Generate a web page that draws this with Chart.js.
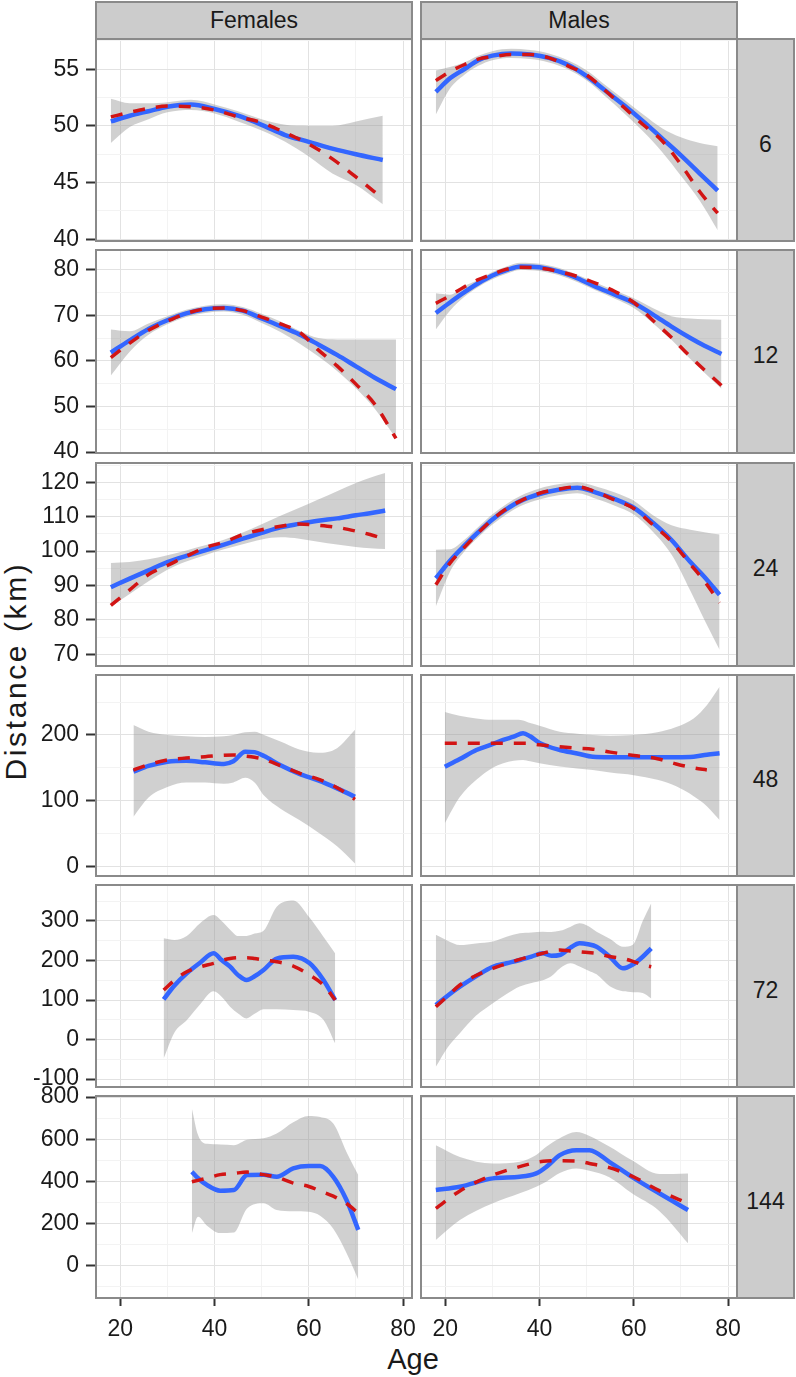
<!DOCTYPE html>
<html>
<head>
<meta charset="utf-8">
<script src="https://cdn.jsdelivr.net/npm/chart.js@4.4.0/dist/chart.umd.min.js"></script>
<style>
  html, body { margin: 0; padding: 0; background: #fff; }
  #plot { position: relative; width: 796px; height: 1377px; overflow: hidden;
          font-family: "Liberation Sans", Arial, sans-serif; color: #1a1a1a; }
  #plot canvas { position: absolute; }
  .strip { position: absolute; box-sizing: border-box; background: #cccccc;
           border: 2px solid #8a8a8a; display: flex; align-items: center;
           justify-content: center; font-size: 23px; }
  .side { padding-top: 8px; }
  #ytitle { position: absolute; left: -134px; top: 651px; width: 300px; height: 40px;
            line-height: 40px; text-align: center; font-size: 30px; letter-spacing: 2.6px;
            transform: rotate(-90deg); }
  #xtitle { position: absolute; left: 313px; top: 1345px; width: 200px; height: 29px;
            line-height: 29px; text-align: center; font-size: 29px; }
</style>
</head>
<body>
<div id="plot">
  <div class="strip" style="left:95px;top:1px;width:318px;height:39px;">Females</div>
  <div class="strip" style="left:420px;top:1px;width:318px;height:39px;">Males</div>
  <div id="ytitle">Distance (km)</div>
  <div id="xtitle">Age</div>
</div>
<script>
// facet labels and tick values
const FACETS = ['6', '12', '24', '48', '72', '144'];
const X_MAJOR = [20, 40, 60, 80];
const X_MINOR = [30, 50, 70];
const X_RANGE = [14.85, 81.9];

const Y_MAJOR_6 = [40, 45, 50, 55], Y_MINOR_6 = [42.5, 47.5, 52.5, 57.5], Y_RANGE_6 = [39.85, 57.67];
const Y_MAJOR_12 = [40, 50, 60, 70, 80], Y_MINOR_12 = [45, 55, 65, 75], Y_RANGE_12 = [39.8, 84.3];
const Y_MAJOR_24 = [70, 80, 90, 100, 110, 120], Y_MINOR_24 = [75, 85, 95, 105, 115, 125], Y_RANGE_24 = [66.6, 125.6];
const Y_MAJOR_48 = [0, 100, 200], Y_MINOR_48 = [50, 150, 250], Y_RANGE_48 = [-14, 291];
const Y_MAJOR_72 = [-100, 0, 100, 200, 300], Y_MINOR_72 = [-50, 50, 150, 250, 350], Y_RANGE_72 = [-120, 391];
const Y_MAJOR_144 = [0, 200, 400, 600, 800], Y_MINOR_144 = [-100, 100, 300, 500, 700], Y_RANGE_144 = [-153, 805];

// 6 - Females
const AGE_F6 = [18, 22, 26, 30, 35, 40, 45, 50, 55, 60, 65, 70, 75.7];
const BLUE_F6 = [50.4, 50.9, 51.3, 51.7, 51.9, 51.5, 50.9, 50.1, 49.2, 48.6, 48.0, 47.5, 47.0];
const RED_F6 = [50.8, 51.2, 51.55, 51.75, 51.7, 51.4, 50.8, 50.3, 49.4, 48.4, 47.1, 45.5, 43.6];
const HI_F6 = [52.4, 52.0, 52.0, 52.1, 52.3, 51.9, 51.3, 50.6, 50.1, 50.0, 50.0, 50.4, 50.9];
const LO_F6 = [48.5, 49.9, 50.6, 51.2, 51.4, 51.1, 50.4, 49.6, 48.6, 47.3, 45.8, 44.8, 43.1];
// 6 - Males
const AGE_M6 = [18, 21, 24, 27, 30, 34, 38, 42, 46, 50, 54, 58, 62, 66, 70, 74, 77.8];
const BLUE_M6 = [53.0, 54.2, 55.0, 55.8, 56.2, 56.4, 56.3, 56.0, 55.4, 54.4, 53.1, 51.8, 50.4, 48.9, 47.4, 45.8, 44.3];
const RED_M6 = [54.0, 54.8, 55.4, 55.9, 56.1, 56.3, 56.3, 56.0, 55.3, 54.5, 53.1, 51.6, 50.1, 48.7, 46.6, 44.2, 42.3];
const HI_M6 = [54.9, 55.2, 55.6, 56.2, 56.6, 56.8, 56.7, 56.4, 55.8, 54.9, 53.6, 52.3, 51.0, 49.8, 49.0, 48.5, 48.2];
const LO_M6 = [51.0, 53.3, 54.5, 55.3, 55.8, 56.0, 55.9, 55.6, 55.0, 54.0, 52.6, 51.1, 49.5, 47.7, 45.6, 43.4, 40.8];

// 12 - Females
const AGE_F12 = [18, 22, 26, 30, 34, 38, 42, 46, 50, 54, 58, 62, 66, 70, 74, 78.5];
const BLUE_F12 = [61.8, 64.5, 67.0, 68.9, 70.4, 71.3, 71.6, 71.0, 69.3, 67.6, 65.8, 63.6, 61.3, 58.8, 56.3, 53.8];
const RED_F12 = [60.7, 63.9, 66.7, 68.7, 70.4, 71.4, 71.6, 71.0, 69.6, 68.1, 66.3, 62.4, 58.9, 54.9, 50.5, 43.0];
const HI_F12 = [66.9, 66.5, 68.2, 69.8, 71.2, 72.1, 72.4, 71.8, 70.3, 68.6, 66.6, 65.0, 64.7, 64.7, 64.7, 64.7];
const LO_F12 = [56.8, 62.0, 65.7, 68.0, 69.6, 70.5, 70.8, 70.1, 68.3, 66.3, 63.8, 61.0, 57.8, 54.0, 49.5, 43.0];
// 12 - Males
const AGE_M12 = [18, 21, 24, 27, 30, 33, 36, 40, 44, 48, 52, 56, 60, 64, 68, 72, 75, 78.6];
const BLUE_M12 = [70.5, 72.8, 75.0, 77.0, 78.7, 79.9, 80.7, 80.5, 79.6, 78.1, 76.2, 74.5, 72.7, 70.2, 67.5, 65.0, 63.3, 61.5];
const RED_M12 = [72.6, 74.3, 76.2, 77.8, 79.0, 80.1, 80.5, 80.3, 79.6, 78.5, 77.0, 75.2, 72.8, 68.9, 65.1, 60.9, 58.0, 54.6];
const HI_M12 = [74.8, 74.5, 76.4, 77.8, 79.5, 80.7, 81.5, 81.3, 80.4, 78.9, 77.1, 75.4, 73.7, 71.6, 69.8, 69.3, 69.1, 69.0];
const LO_M12 = [66.9, 71.0, 74.0, 76.2, 77.9, 79.1, 79.9, 79.7, 78.8, 77.3, 75.4, 73.6, 71.6, 68.3, 64.6, 60.4, 57.4, 53.9];

// 24 - Females
const AGE_F24 = [18, 22, 26, 30, 34, 38, 42, 46, 50, 54, 58, 62, 66, 70, 73, 76.2];
const BLUE_F24 = [89.5, 92.0, 94.4, 96.8, 98.6, 100.2, 101.9, 103.6, 105.3, 106.9, 107.9, 108.8, 109.5, 110.4, 111.0, 111.8];
const RED_F24 = [84.2, 88.7, 93.2, 95.8, 98.5, 101.0, 102.6, 104.8, 106.2, 107.2, 107.9, 107.5, 106.9, 105.8, 104.8, 103.5];
const HI_F24 = [96.5, 96.8, 97.6, 98.8, 100.2, 101.7, 103.3, 105.4, 107.8, 110.3, 112.6, 115.0, 117.4, 119.8, 121.3, 122.7];
const LO_F24 = [83.9, 87.5, 91.2, 94.6, 97.0, 98.8, 100.5, 102.0, 103.4, 104.0, 103.6, 102.7, 101.9, 101.2, 100.8, 100.6];
// 24 - Males
const AGE_M24 = [18, 21, 24, 27, 30, 33, 36, 40, 44, 48, 52, 56, 60, 64, 68, 72, 75, 78.2];
const BLUE_M24 = [92.1, 97.2, 101.5, 105.5, 109.2, 112.2, 114.6, 116.6, 117.8, 118.4, 117.0, 115.1, 112.6, 108.3, 103.2, 96.8, 92.5, 87.3];
const RED_M24 = [90.2, 96.5, 101.0, 105.3, 109.2, 112.3, 114.6, 116.8, 118.0, 118.7, 117.2, 114.8, 112.4, 107.7, 102.8, 96.2, 91.2, 85.0];
const HI_M24 = [100.4, 100.5, 103.2, 107.0, 110.7, 113.7, 116.1, 118.2, 119.4, 120.0, 118.8, 117.0, 114.6, 110.5, 107.5, 106.2, 105.5, 104.8];
const LO_M24 = [83.9, 94.0, 99.8, 104.0, 107.7, 110.7, 113.1, 115.0, 116.2, 116.8, 115.2, 113.2, 110.6, 105.7, 99.0, 88.5, 80.0, 71.3];

// 48 - Females
const AGE_F48 = [22.8, 26, 30, 34, 38, 42, 44, 46.5, 48.5, 50.5, 54, 58, 62, 66, 69.8];
const BLUE_F48 = [144.3, 153, 159.5, 161, 158.5, 156, 160, 174.7, 174, 168, 154, 141, 131, 119, 106.3];
const RED_F48 = [146.8, 155, 162, 165, 167, 169.3, 169.6, 168, 166.1, 163, 153.5, 142, 133, 120, 102.3];
const HI_F48 = [215, 205, 200, 198, 197, 198, 200, 204, 205, 200, 190, 178, 173, 180, 208];
const LO_F48 = [76, 105, 121, 128, 128, 126, 128, 135, 128, 108, 88, 71, 52, 31, 5];
// 48 - Males
const AGE_M48 = [19.9, 23, 26.6, 30, 32.3, 34.5, 36.5, 38, 40, 44.3, 48, 51.3, 55, 60, 65, 69, 72.7, 75.5, 78.2];
const BLUE_M48 = [151.9, 163, 177.2, 186, 192.4, 197.5, 202.5, 198, 188, 177.2, 172, 167, 166.3, 166.3, 166.3, 166.3, 167, 170, 172.2];
const RED_M48 = [187.3, 187.3, 187.3, 187.3, 187.3, 187.3, 187.3, 187, 185, 182, 180, 178.5, 174, 169, 164, 156, 150, 147, null];
const HI_M48 = [235, 229, 225, 223, 223, 223, 222, 218, 214, 205, 202, 200, 199, 200, 204, 212, 225, 245, 273];
const LO_M48 = [66, 105, 132, 150, 157, 161, 162, 160, 157, 152, 149, 146.8, 143, 139, 132, 122, 107, 92, 71];

// 72 - Females
const AGE_F72 = [29.2, 31.5, 34.1, 37, 39.8, 41.5, 43.3, 45, 46.8, 48.5, 50.4, 53.2, 56.7, 60.2, 63.1, 65.6];
const BLUE_F72 = [101.7, 137, 167.6, 195, 218.2, 201, 184.3, 163, 150.6, 160, 176, 205, 209.6, 192.9, 150.6, 100];
const RED_F72 = [125.3, 150, 171.6, 184, 192.9, 200, 205, 207, 207.1, 205, 201.3, 197, 186, 163.3, 138, 100];
const HI_F72 = [256, 252, 262, 295, 315, 300, 278, 262, 262, 268, 275, 336, 352, 308, 260, 218];
const LO_F72 = [-48, 18, 49, 90, 122, 108, 83, 66, 53.5, 65, 77, 77, 74.7, 70, 50, -10];
// 72 - Males
const AGE_M72 = [18, 20.5, 23.1, 26.5, 30.1, 33, 35.8, 38.3, 40.7, 42.5, 44.3, 46.5, 48.5, 50.3, 52.1, 54.9, 57.7, 59.8, 61.9, 63.7];
const BLUE_M72 = [87.3, 111, 133.7, 160, 184.3, 193, 201.3, 210, 218.2, 212, 214, 232, 243.5, 241, 235, 209.6, 180.2, 190, 209.6, 230.9];
const RED_M72 = [83, 110, 138, 162, 180.2, 192, 203, 211, 218.2, 224, 226.6, 224, 222, 220, 218, 210, 205, 198, 189, 184];
const HI_M72 = [265, 250, 239, 243, 248, 260, 269, 271, 273, 272, 275, 285, 294, 287, 273, 255, 235, 240, 300, 345];
const LO_M72 = [-69, -20, 16, 60, 92, 115, 134, 143, 150, 160, 180, 193, 185, 175, 165, 135, 122, 120, 118, 104];

// 144 - Females
const AGE_F144 = [35.2, 36.5, 38.4, 41.2, 44.1, 46.9, 50.4, 53.2, 56.7, 60, 62.4, 65.2, 68, 70.5];
const BLUE_F144 = [445.6, 415, 382.7, 355.8, 359, 430, 432, 421.9, 461.6, 472.5, 472.5, 421.9, 311.8, 170];
const RED_F144 = [398, 405, 415, 432, 438, 444, 432, 420, 392, 376, 355, 330, 295, 250];
const HI_F144 = [745, 620, 578, 575, 572, 598, 605, 627, 680, 710, 705, 674, 540, 430];
const LO_F144 = [154, 232, 190, 155, 158, 272, 296, 264, 258, 256, 237, 175, 60, -66];
// 144 - Males
const AGE_M144 = [18, 23.1, 30.1, 35.8, 39.3, 41.5, 44.3, 47.8, 50.6, 54.8, 59.6, 65.4, 71.5];
const BLUE_M144 = [359, 374.7, 414.4, 421.9, 438, 470, 524.5, 548, 548, 492.8, 421.9, 343.5, 264.6];
const RED_M144 = [272, 355, 430, 470, 490, 497, 498, 497, 485, 465, 425, 356, 295];
const HI_M144 = [572, 516, 485, 493, 525, 565, 605, 634, 615, 565, 500, 435, 438];
const LO_M144 = [122, 217, 296, 343.5, 375, 400, 440, 461, 450, 420, 343.5, 260, 107];

const ROWS = [
  { major: Y_MAJOR_6, minor: Y_MINOR_6, range: Y_RANGE_6, panels: [
    [AGE_F6, BLUE_F6, RED_F6, HI_F6, LO_F6], [AGE_M6, BLUE_M6, RED_M6, HI_M6, LO_M6]] },
  { major: Y_MAJOR_12, minor: Y_MINOR_12, range: Y_RANGE_12, panels: [
    [AGE_F12, BLUE_F12, RED_F12, HI_F12, LO_F12], [AGE_M12, BLUE_M12, RED_M12, HI_M12, LO_M12]] },
  { major: Y_MAJOR_24, minor: Y_MINOR_24, range: Y_RANGE_24, panels: [
    [AGE_F24, BLUE_F24, RED_F24, HI_F24, LO_F24], [AGE_M24, BLUE_M24, RED_M24, HI_M24, LO_M24]] },
  { major: Y_MAJOR_48, minor: Y_MINOR_48, range: Y_RANGE_48, panels: [
    [AGE_F48, BLUE_F48, RED_F48, HI_F48, LO_F48], [AGE_M48, BLUE_M48, RED_M48, HI_M48, LO_M48]] },
  { major: Y_MAJOR_72, minor: Y_MINOR_72, range: Y_RANGE_72, panels: [
    [AGE_F72, BLUE_F72, RED_F72, HI_F72, LO_F72], [AGE_M72, BLUE_M72, RED_M72, HI_M72, LO_M72]] },
  { major: Y_MAJOR_144, minor: Y_MINOR_144, range: Y_RANGE_144, panels: [
    [AGE_F144, BLUE_F144, RED_F144, HI_F144, LO_F144], [AGE_M144, BLUE_M144, RED_M144, HI_M144, LO_M144]] },
];

// layout (page pixels)
const COL_LEFT = [96, 421];
const PANEL_W = 316;
const ROW_TOP = [39, 250, 463, 675, 885, 1096];
const ROW_BOTTOM = [241, 453, 666, 876, 1087, 1298];
const STRIP_LEFT = 736, STRIP_W = 59;

const FONT = '"Liberation Sans", Arial, sans-serif';
const BLUE = '#3366ff';
const RED = '#d21414';
const BAND = 'rgba(150,150,150,0.45)';
const FRAME = '#8a8a8a';
const GRID = '#e2e2e2';
const GRID_MINOR = '#f3f3f3';
const TICK = '#333333';
const TEXT = '#1a1a1a';

const pts = (ages, vals) => ages.map((a, i) => ({ x: a, y: vals[i] }));

const frame = {
  id: 'frame',
  afterDraw(chart) {
    const { ctx, chartArea: a } = chart;
    ctx.save();
    ctx.strokeStyle = FRAME;
    ctx.lineWidth = 2;
    ctx.strokeRect(a.left, a.top, a.right - a.left, a.bottom - a.top);
    ctx.restore();
  }
};

const plot = document.getElementById('plot');

ROWS.forEach((row, r) => {
  // facet strip on the right
  const s = document.createElement('div');
  s.className = 'strip side';
  s.style.left = STRIP_LEFT + 'px';
  s.style.top = (ROW_TOP[r] - 1) + 'px';
  s.style.width = STRIP_W + 'px';
  s.style.height = (ROW_BOTTOM[r] - ROW_TOP[r] + 2) + 'px';
  s.textContent = FACETS[r];
  plot.appendChild(s);

  row.panels.forEach((p, c) => {
    const [age, blue, red, hi, lo] = p;
    const isLeft = c === 0;
    const isBottom = r === ROWS.length - 1;
    const yAxisW = isLeft ? COL_LEFT[0] : 0;
    const padL = isLeft ? 0 : 16, padR = 16, padT = 26, padB = isBottom ? 4 : 26;
    const xAxisH = isBottom ? 50 : 0;
    const ph = ROW_BOTTOM[r] - ROW_TOP[r];
    const w = yAxisW + padL + PANEL_W + padR;
    const h = padT + ph + xAxisH + padB;

    const cv = document.createElement('canvas');
    cv.width = w; cv.height = h;
    cv.style.left = (COL_LEFT[c] - yAxisW - padL) + 'px';
    cv.style.top = (ROW_TOP[r] - padT) + 'px';
    cv.style.width = w + 'px'; cv.style.height = h + 'px';
    plot.appendChild(cv);

    const xGrid = X_MAJOR.concat(X_MINOR);
    const yGrid = row.major.concat(row.minor);

    new Chart(cv, {
      type: 'line',
      data: {
        datasets: [
          { data: pts(age, hi), borderWidth: 0, pointRadius: 0, fill: false,
            cubicInterpolationMode: 'monotone', order: 3 },
          { data: pts(age, lo), borderWidth: 0, pointRadius: 0, fill: '-1', backgroundColor: BAND,
            cubicInterpolationMode: 'monotone', order: 3 },
          { data: pts(age, blue), borderColor: BLUE, borderWidth: 4.5, pointRadius: 0,
            cubicInterpolationMode: 'monotone', order: 2 },
          { data: pts(age, red), borderColor: RED, borderWidth: 3.5, borderDash: [12, 11], pointRadius: 0,
            cubicInterpolationMode: 'monotone', order: 1 },
        ]
      },
      options: {
        responsive: false,
        animation: false,
        events: [],
        devicePixelRatio: 1,
        layout: { autoPadding: false, padding: { left: padL, right: padR, top: padT, bottom: padB } },
        plugins: { legend: { display: false }, tooltip: { enabled: false } },
        scales: {
          x: {
            type: 'linear', min: X_RANGE[0], max: X_RANGE[1],
            afterBuildTicks: ax => { ax.ticks = xGrid.map(v => ({ value: v })); },
            afterFit: ax => { ax.height = xAxisH; },
            border: { display: false },
            grid: {
              color: ctx => (ctx.tick && X_MAJOR.includes(ctx.tick.value)) ? GRID : GRID_MINOR,
              drawTicks: isBottom, tickLength: 8, tickWidth: 2,
              tickColor: ctx => (ctx.tick && X_MAJOR.includes(ctx.tick.value)) ? TICK : 'rgba(0,0,0,0)'
            },
            ticks: {
              display: isBottom, autoSkip: false, maxRotation: 0, padding: 10, color: TEXT,
              font: { family: FONT, size: 23 },
              callback: v => X_MAJOR.includes(v) ? String(v) : ''
            }
          },
          y: {
            type: 'linear', min: row.range[0], max: row.range[1],
            afterBuildTicks: ax => { ax.ticks = yGrid.map(v => ({ value: v })); },
            afterFit: ax => { ax.width = yAxisW; },
            border: { display: false },
            grid: {
              color: ctx => (ctx.tick && row.major.includes(ctx.tick.value)) ? GRID : GRID_MINOR,
              drawTicks: isLeft, tickLength: 10, tickWidth: 2,
              tickColor: ctx => (ctx.tick && row.major.includes(ctx.tick.value)) ? TICK : 'rgba(0,0,0,0)'
            },
            ticks: {
              display: isLeft, autoSkip: false, padding: 7, color: TEXT,
              font: { family: FONT, size: 23 },
              callback: v => row.major.includes(v) ? String(v) : ''
            }
          }
        }
      },
      plugins: [frame]
    });
  });
});
</script>
</body>
</html>
